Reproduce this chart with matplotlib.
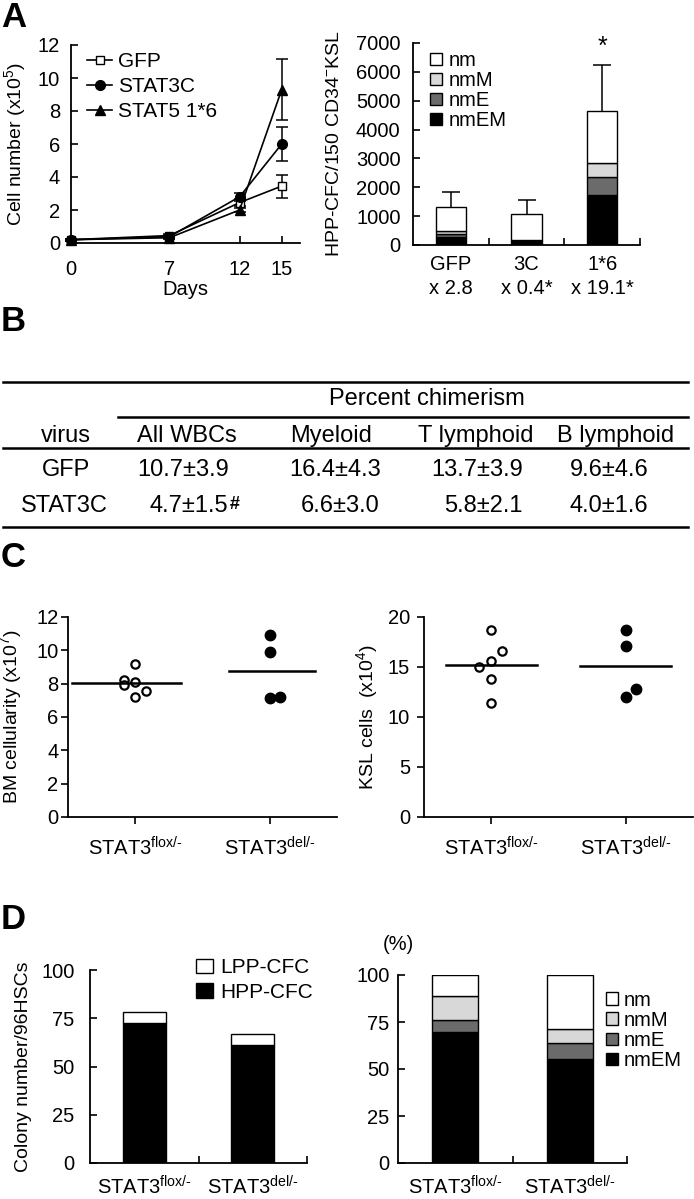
import numpy as np
import matplotlib
matplotlib.use("Agg")
import matplotlib.pyplot as plt
from matplotlib.lines import Line2D

plt.rcParams['font.family'] = ['Liberation Sans', 'DejaVu Sans']
plt.rcParams['mathtext.fontset'] = 'custom'
plt.rcParams['mathtext.rm'] = 'Liberation Sans'
plt.rcParams['mathtext.it'] = 'Liberation Sans:italic'
plt.rcParams['mathtext.bf'] = 'Liberation Sans:bold'
plt.rcParams['axes.linewidth'] = 1.3
plt.rcParams['font.size'] = 14

# ---- data -------------------------------------------------------------
# A, left: growth curves
days = [0, 7, 12, 15]
gfp = [0.2, 0.45, 2.45, 3.45]
gfp_err = [0.05, 0.1, 0.2, 0.7]
stat3c = [0.2, 0.38, 2.8, 6.0]
stat3c_err = [0.05, 0.1, 0.25, 1.05]
stat5 = [0.2, 0.32, 2.0, 9.3]
stat5_err = [0.05, 0.1, 0.15, 1.85]

# A, right: HPP-CFC colonies (stacked)
a_groups = ['GFP\nx 2.8', '3C\nx 0.4*', '1*6\nx 19.1*']
a_nmEM = [280, 140, 1740]
a_nmE = [110, 10, 620]
a_nmM = [100, 10, 470]
a_nm = [810, 920, 1820]
a_err = [550, 480, 1600]

# B: chimerism table
tab_cols = ['virus', 'All WBCs', 'Myeloid', 'T lymphoid', 'B lymphoid']
tab_gfp = ['GFP', '10.7±3.9', '16.4±4.3', '13.7±3.9', '9.6±4.6']
tab_stat3c = ['STAT3C', '4.7±1.5', '6.6±3.0', '5.8±2.1', '4.0±1.6']

# C: BM cellularity and KSL cells
c_groups = ['STAT3$^{\\mathrm{flox/\u2010}}$', 'STAT3$^{\\mathrm{del/\u2010}}$']
bm_flox = [8.2, 7.95, 9.2, 8.1, 7.2, 7.55]
bm_flox_dx = [-0.08, -0.08, 0, 0, 0, 0.08]
bm_del = [10.9, 9.9, 7.15, 7.2]
bm_del_dx = [0, 0, 0, 0.075]
ksl_flox = [15.0, 18.7, 16.6, 15.6, 13.85, 11.4]
ksl_flox_dx = [-0.09, 0, 0.08, 0, 0, 0]
ksl_del = [18.7, 17.1, 12.0, 12.8]
ksl_del_dx = [0, 0, 0, 0.075]

# D: colony numbers and composition
d_hpp = [72.5, 61.2]
d_lpp = [5.7, 5.6]
d_nmEM = [69.8, 55.1]
d_nmE = [6.2, 8.5]
d_nmM = [13.0, 7.8]
d_nm = [11.0, 28.6]

# ---- layout helpers ----------------------------------------------------
W, H = 694, 1199
fig = plt.figure(figsize=(W / 100, H / 100), dpi=100)


def box(l, t, r, b):
    return [l / W, 1 - b / H, (r - l) / W, (b - t) / H]


def ylab_x(l, r, px):
    return (px - l) / (r - l)


bg = fig.add_axes([0, 0, 1, 1])
bg.set_xlim(0, W)
bg.set_ylim(H, 0)
bg.axis('off')


def clean(ax):
    ax.spines['top'].set_visible(False)
    ax.spines['right'].set_visible(False)


# panel letters
for lab, y in [('A', 1), ('B', 305), ('C', 541), ('D', 903)]:
    bg.text(1, y, lab, fontsize=25, fontweight='bold', va='top', ha='left')

# ---- A left ------------------------------------------------------------
ax = fig.add_axes(box(71, 45, 300, 243))
clean(ax)
series = [(gfp, gfp_err, 's', 'white', 6, 'GFP'),
          (stat3c, stat3c_err, 'o', 'black', 7, 'STAT3C'),
          (stat5, stat5_err, '^', 'black', 7.5, 'STAT5 1*6')]
handles = []
for vals, err, mk, fc, ms, lab in series:
    cont = ax.errorbar(days, vals, yerr=err, color='black', marker=mk, mfc=fc,
                       mec='black', ms=ms, lw=1.2, elinewidth=1.1, capsize=4,
                       capthick=1.1)
    for art in cont.get_children():
        art.set_clip_on(False)
    handles.append(Line2D([], [], color='black', marker=mk, mfc=fc, mec='black',
                          ms=ms, lw=1.2, label=lab))
ax.set_xlim(0, 16.3)
ax.set_ylim(0, 12)
ax.set_xticks(days)
ax.set_yticks(range(0, 13, 2))
ax.tick_params(direction='in', length=5, width=1.2, labelsize=14.5)
ax.tick_params(axis='x', pad=12)
ax.tick_params(axis='y', pad=8)
ax.set_xlabel('Days', fontsize=14.5, labelpad=1)
ax.set_ylabel(r'Cell number (x10$^5$)', fontsize=14)
ax.yaxis.set_label_coords(ylab_x(71, 300, 28), 0.5)
ax.legend(handles=handles, loc='upper left', bbox_to_anchor=(0.07, 0.965), frameon=False,
          fontsize=15, handlelength=1.2, handletextpad=0.3, labelspacing=0.3,
          borderpad=0, borderaxespad=0)

# ---- A right -----------------------------------------------------------
ax = fig.add_axes(box(413, 43, 640, 245))
clean(ax)
x = np.arange(len(a_groups))
bw = 0.4
bottom = np.zeros(len(x))
stack = [(a_nmEM, 'black', 'nmEM'), (a_nmE, '#6b6b6b', 'nmE'),
         (a_nmM, '#d8d8d8', 'nmM'), (a_nm, 'white', 'nm')]
for vals, col, lab in stack:
    ax.bar(x, vals, bw, bottom=bottom, color=col, edgecolor='black', lw=1, label=lab)
    bottom += np.array(vals)
cont = ax.errorbar(x, bottom, yerr=[np.zeros(len(x)), a_err], fmt='none', ecolor='black',
                   elinewidth=1.1, capsize=6.5, capthick=1.1)
cont.lines[1][0].set_visible(False)
ax.text(x[2], bottom[2] + a_err[2] + 600, '*', ha='center', va='center', fontsize=18)
ax.set_xlim(-0.5, 2.5)
ax.set_ylim(0, 7000)
ax.set_yticks(range(0, 7001, 1000))
ax.set_xticks(x)
ax.set_xticklabels(a_groups, linespacing=1.35)
ax.set_xticks([0.5, 1.5, 2.5], minor=True)
ax.tick_params(axis='x', which='major', length=0, pad=7, labelsize=14.5)
ax.tick_params(axis='x', which='minor', direction='in', length=5, width=1.2)
ax.tick_params(axis='y', direction='in', length=5, width=1.2, pad=9, labelsize=14.5)
ax.set_ylabel(r'HPP-CFC/150 CD34$^{-}$KSL', fontsize=14)
ax.yaxis.set_label_coords(ylab_x(413, 640, 343), 0.5)
h, l = ax.get_legend_handles_labels()
ax.legend(h[::-1], l[::-1], loc='upper left', bbox_to_anchor=(0.075, 0.96),
          frameon=False, fontsize=14.5, handlelength=0.6, handleheight=0.6,
          handletextpad=0.35, labelspacing=0.05, borderpad=0, borderaxespad=0)

# ---- B table -----------------------------------------------------------
tsize = 17
col_x = [66, 187, 331, 476, 616]
gfp_x = [66, 183, 335, 477, 609]
s3_x = [64, 189, 340, 483, 609]
for y0, x0 in [(382, 3), (417, 118), (448, 3), (527, 3)]:
    bg.plot([x0, 688], [y0, y0], color='black', lw=1.8)
bg.text(427, 399, 'Percent chimerism', fontsize=tsize, ha='center', va='center')
for cx, t in zip(col_x, tab_cols):
    bg.text(cx, 436, t, fontsize=tsize, ha='center', va='center')
for cx, t in zip(gfp_x, tab_gfp):
    bg.text(cx, 470, t, fontsize=tsize, ha='center', va='center')
for i, (cx, t) in enumerate(zip(s3_x, tab_stat3c)):
    tt = bg.text(cx, 506, t, fontsize=tsize, ha='center', va='center')
    if i == 1:
        bg.annotate('#', xy=(1, 1), xycoords=tt, xytext=(1, -1), textcoords='offset points',
                    ha='left', va='top', fontsize=13, fontweight='bold')

# ---- C ----------------------------------------------------------------
def dotplot(ax, flox, flox_dx, dele, dele_dx, line_ext):
    clean(ax)
    ax.plot(np.array(flox_dx), flox, 'o', ms=6, mfc='white', mec='black', mew=1.6,
            ls='none', clip_on=False)
    ax.plot(1 + np.array(dele_dx), dele, 'o', ms=7.5, color='black', ls='none',
            clip_on=False)
    for pos, vals, (lo, hi) in zip([0, 1], [flox, dele], line_ext):
        ax.plot([pos + lo, pos + hi], [np.mean(vals)] * 2, color='black', lw=1.8)
    ax.set_xlim(-0.5, 1.5)
    ax.set_xticks([0, 1])
    ax.set_xticklabels(c_groups)
    ax.tick_params(direction='out', length=5, width=1.2, labelsize=14.5)
    ax.tick_params(axis='x', pad=9)


ax = fig.add_axes(box(68, 617, 337, 817))
dotplot(ax, bm_flox, bm_flox_dx, bm_del, bm_del_dx, [(-0.47, 0.34), (-0.30, 0.34)])
ax.set_ylim(0, 12)
ax.set_yticks(range(0, 13, 2))
ax.tick_params(axis='y', pad=2)
ax.set_ylabel(r'BM cellularity (x10$^7$)', fontsize=14)
ax.yaxis.set_label_coords(ylab_x(68, 337, 24), 0.5)

ax = fig.add_axes(box(424, 617, 693, 817))
dotplot(ax, ksl_flox, ksl_flox_dx, ksl_del, ksl_del_dx, [(-0.34, 0.34), (-0.34, 0.34)])
ax.set_ylim(0, 20)
ax.set_yticks(range(0, 21, 5))
ax.tick_params(axis='y', pad=5)
ax.set_ylabel(r'KSL cells  (x10$^4$)', fontsize=14)
ax.yaxis.set_label_coords(ylab_x(424, 693, 380), 0.5)

# ---- D ----------------------------------------------------------------
def bar_axes(ax):
    clean(ax)
    ax.set_xlim(-0.5, 1.5)
    ax.set_ylim(0, 100)
    ax.set_yticks([0, 25, 50, 75, 100])
    ax.set_xticks([0, 1])
    ax.set_xticklabels(c_groups)
    ax.set_xticks([0.5, 1.5], minor=True)
    ax.tick_params(axis='x', which='major', length=0, pad=9, labelsize=14.5)
    ax.tick_params(axis='x', which='minor', direction='in', length=5, width=1.2)
    ax.tick_params(axis='y', direction='in', length=5, width=1.2, labelsize=14.5)


ax = fig.add_axes(box(90, 970, 307, 1163))
bar_axes(ax)
xd = np.arange(2)
ax.bar(xd, d_hpp, 0.4, color='black', edgecolor='black', lw=1, label='HPP-CFC')
ax.bar(xd, d_lpp, 0.4, bottom=d_hpp, color='white', edgecolor='black', lw=1, label='LPP-CFC')
ax.tick_params(axis='y', pad=11)
ax.set_ylabel('Colony number/96HSCs', fontsize=14)
ax.yaxis.set_label_coords(ylab_x(90, 307, 32), 0.5)
h, l = ax.get_legend_handles_labels()
ax.legend(h[::-1], l[::-1], loc='upper left', bbox_to_anchor=(0.49, 1.06),
          frameon=False, fontsize=15, handlelength=0.8, handleheight=0.7,
          handletextpad=0.35, labelspacing=0.25, borderpad=0, borderaxespad=0)

ax = fig.add_axes(box(398, 975, 627, 1163))
bar_axes(ax)
bottom = np.zeros(2)
for vals, col, lab in [(d_nmEM, 'black', 'nmEM'), (d_nmE, '#6b6b6b', 'nmE'),
                       (d_nmM, '#d8d8d8', 'nmM'), (d_nm, 'white', 'nm')]:
    ax.bar(xd, vals, 0.4, bottom=bottom, color=col, edgecolor='black', lw=1, label=lab)
    bottom += np.array(vals)
ax.tick_params(axis='y', pad=6)
ax.annotate('(%)', xy=(0, 1), xycoords='axes fraction', xytext=(0, 22),
            textcoords='offset points', ha='center', va='center', fontsize=14.5)
h, l = ax.get_legend_handles_labels()
ax.legend(h[::-1], l[::-1], loc='upper left', bbox_to_anchor=(0.91, 0.915),
          frameon=False, fontsize=14.5, handlelength=0.6, handleheight=0.6,
          handletextpad=0.25, labelspacing=0.05, borderpad=0, borderaxespad=0)

fig.savefig('out.png', dpi=100)
